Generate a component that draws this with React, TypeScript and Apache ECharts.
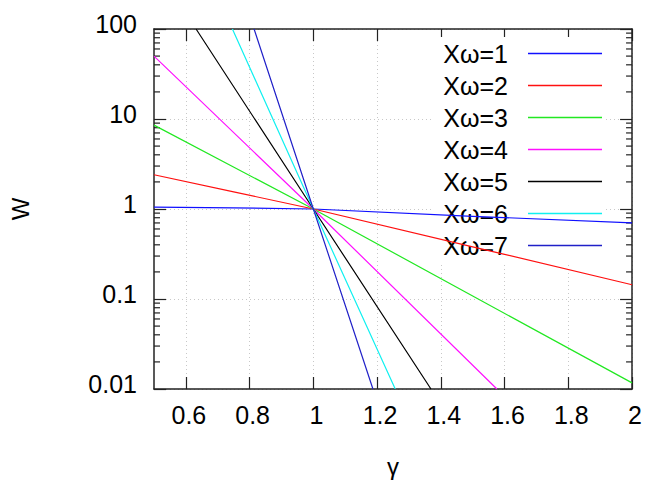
import React, { useEffect, useRef } from "react";
import * as echarts from "echarts";

// Data
const seriesNames = ["Xω=1", "Xω=2", "Xω=3", "Xω=4", "Xω=5", "Xω=6", "Xω=7"];
const gamma1 = [0.5, 0.75, 1, 1.5, 2];
const w1 = [1.05, 1.03, 1, 0.83, 0.7];
const gamma2 = [0.5, 0.75, 1, 1.5, 2];
const w2 = [2.4, 1.55, 1, 0.38, 0.144];
const gamma3 = [0.5, 1, 1.5, 2];
const w3 = [8.55, 1, 0.108, 0.0117];
const gamma4 = [0.5, 1, 1.576];
const w4 = [50, 1, 0.01];
const gamma5 = [0.632, 1, 1.369];
const w5 = [100, 1, 0.01];
const gamma6 = [0.746, 1, 1.257];
const w6 = [100, 1, 0.01];
const gamma7 = [0.814, 1, 1.187];
const w7 = [100, 1, 0.01];

const xTicks = [0.6, 0.8, 1, 1.2, 1.4, 1.6, 1.8, 2];
const xTickLabels = ["0.6", "0.8", "1", "1.2", "1.4", "1.6", "1.8", "2"];
const yTickValues = [0.01, 0.1, 1, 10, 100];
const yTickLabels = ["0.01", "0.1", "1", "10", "100"];
const yMinorTicks = [
  0.02, 0.03, 0.04, 0.05, 0.06, 0.07, 0.08, 0.09,
  0.2, 0.3, 0.4, 0.5, 0.6, 0.7, 0.8, 0.9,
  2, 3, 4, 5, 6, 7, 8, 9,
  20, 30, 40, 50, 60, 70, 80, 90,
];

const gammaSets = [gamma1, gamma2, gamma3, gamma4, gamma5, gamma6, gamma7];
const wSets = [w1, w2, w3, w4, w5, w6, w7];
const colors = ["#1010ff", "#ff1010", "#22e822", "#ff10ff", "#000000", "#10f0f0", "#2020c8"];

const X_MIN = 0.5;
const X_MAX = 2;
const FONT = "Liberation Sans, Arial, sans-serif";

export default function App() {
  const ref = useRef<HTMLDivElement>(null);

  useEffect(() => {
    if (!ref.current) return;
    const chart = echarts.init(ref.current, null, { renderer: "svg" });

    const labelFor = (v: number) => {
      let best = 0;
      for (let i = 0; i < yTickValues.length; i++) {
        if (Math.abs(Math.log10(v) - Math.log10(yTickValues[i])) < Math.abs(Math.log10(v) - Math.log10(yTickValues[best]))) best = i;
      }
      return yTickLabels[best];
    };

    const lineSeries = seriesNames.map((name, i) => ({
      name,
      type: "line",
      data: gammaSets[i].map((g, j) => [g, wSets[i][j]]),
      symbol: "none",
      showSymbol: false,
      clip: true,
      z: 3,
      lineStyle: { color: colors[i], width: 1.2 },
      itemStyle: { color: colors[i] },
    }));

    const option: any = {
      animation: false,
      backgroundColor: "#ffffff",
      textStyle: { fontFamily: FONT },
      grid: { left: 154, right: 10, top: 29, bottom: 92, containLabel: false },
      legend: {
        data: seriesNames,
        orient: "vertical",
        align: "right",
        right: 39,
        top: 37,
        icon: "rect",
        itemWidth: 74,
        itemHeight: 1.3,
        itemGap: 7,
        padding: [4, 4, 4, 12],
        backgroundColor: "#ffffff",
        z: 1,
        textStyle: {
          fontSize: 25,
          fontFamily: FONT,
          color: "#000",
          lineHeight: 25,
          padding: [0, 15, 0, 0],
        },
      },
      xAxis: [
        {
          type: "value",
          min: X_MIN,
          max: X_MAX,
          name: "γ",
          nameLocation: "middle",
          nameGap: 65,
          nameTextStyle: { fontSize: 24, color: "#000", fontFamily: FONT },
          axisLine: { show: true, onZero: false, lineStyle: { color: "#222", width: 1.5 } },
          axisTick: { show: true, inside: true, length: 12, customValues: xTicks, lineStyle: { color: "#222", width: 1.2 } },
          axisLabel: {
            show: true,
            customValues: xTicks,
            margin: 13,
            fontSize: 25,
            color: "#000",
            fontFamily: FONT,
            padding: [0, 0, 0, 6],
            formatter: (v: number) => {
              const i = xTicks.findIndex((t) => Math.abs(t - v) < 1e-6);
              return i >= 0 ? xTickLabels[i] : "";
            },
          },
          splitLine: { show: true, lineStyle: { color: "#c8c8c8", type: [1, 3], width: 1 } },
        },
        {
          type: "value",
          position: "top",
          min: X_MIN,
          max: X_MAX,
          axisLine: { show: true, onZero: false, lineStyle: { color: "#222", width: 1.5 } },
          axisTick: { show: true, inside: true, length: 12, customValues: xTicks, lineStyle: { color: "#222", width: 1.2 } },
          axisLabel: { show: false },
          splitLine: { show: false },
        },
      ],
      yAxis: [
        {
          type: "log",
          logBase: 10,
          min: 0.01,
          max: 100,
          name: "W",
          nameLocation: "middle",
          nameRotate: 90,
          nameGap: 122,
          nameTextStyle: { fontSize: 24, color: "#000", fontFamily: FONT },
          axisLine: { show: true, onZero: false, lineStyle: { color: "#222", width: 1.5 } },
          axisTick: { show: true, inside: true, length: 12, lineStyle: { color: "#222", width: 1.2 } },
          axisLabel: {
            show: true,
            margin: 17,
            fontSize: 25,
            color: "#000",
            fontFamily: FONT,
            verticalAlign: "bottom",
            lineHeight: 10,
            formatter: (v: number) => labelFor(v),
          },
          splitLine: { show: true, lineStyle: { color: "#c8c8c8", type: [1, 3], width: 1 } },
        },
        {
          type: "log",
          logBase: 10,
          min: 0.01,
          max: 100,
          position: "right",
          axisLine: { show: true, onZero: false, lineStyle: { color: "#222", width: 1.5 } },
          axisTick: { show: true, inside: true, length: 12, lineStyle: { color: "#222", width: 1.2 } },
          axisLabel: { show: false },
          splitLine: { show: false },
        },
      ],
      series: [
        ...lineSeries,
        {
          name: "minorTicks",
          type: "custom",
          silent: true,
          clip: false,
          z: 2,
          xAxisIndex: 0,
          yAxisIndex: 0,
          data: yMinorTicks.map((v) => [X_MIN, v]),
          renderItem: (params: any, api: any) => {
            const v = api.value(1);
            const l = api.coord([X_MIN, v]);
            const r = api.coord([X_MAX, v]);
            const st = { stroke: "#222", lineWidth: 1.2 };
            return {
              type: "group",
              children: [
                { type: "line", shape: { x1: l[0], y1: l[1], x2: l[0] + 6, y2: l[1] }, style: st },
                { type: "line", shape: { x1: r[0] - 6, y1: r[1], x2: r[0], y2: r[1] }, style: st },
              ],
            };
          },
        },
      ],
    };

    chart.setOption(option);
    return () => chart.dispose();
  }, []);

  return (
    <div
      ref={ref}
      style={{ position: "fixed", left: 0, top: 0, width: 645, height: 483 }}
    />
  );
}
